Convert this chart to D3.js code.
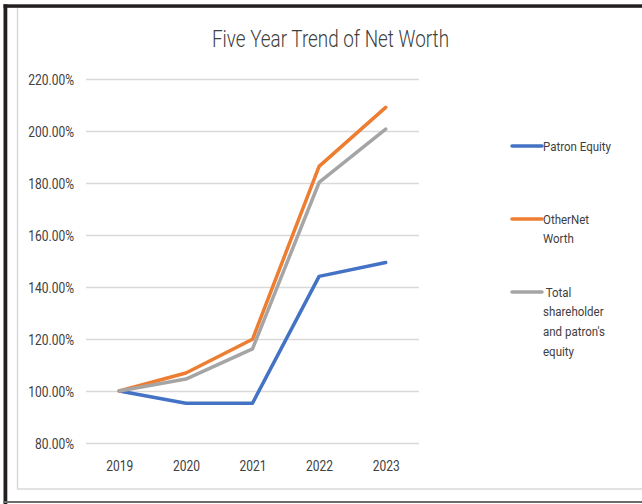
<!DOCTYPE html>
<html>
<head>
<meta charset="utf-8">
<script src="https://cdn.jsdelivr.net/npm/d3@7"></script>
<style>
  body { margin: 0; background: #fff; }
  svg { display: block; font-family: Roboto, "Liberation Sans", sans-serif; }
</style>
</head>
<body>
<svg id="chart" width="642" height="504"></svg>
<script>
// data
const years = ["2019", "2020", "2021", "2022", "2023"];
const patronEquity = [1.00, 0.953, 0.953, 1.441, 1.494];
const otherNetWorth = [1.00, 1.069, 1.199, 1.864, 2.091];
const totalEquity = [1.00, 1.046, 1.162, 1.802, 2.007];
const seriesNames = ["Patron Equity", "Other Net Worth", "Total shareholder and patron's equity"];
const legendLines = [["Patron Equity"], ["OtherNet", "Worth"], [" Total", "shareholder", "and patron's", "equity"]];
const colors = ["#4472C4", "#ED7D31", "#A5A5A5"];
const yTicks = [0.8, 1.0, 1.2, 1.4, 1.6, 1.8, 2.0, 2.2];

const svg = d3.select("#chart");

// squeeze text horizontally, the original uses a narrow face
function condense(sel, f) {
    sel.each(function () {
        const w = this.getComputedTextLength();
        d3.select(this).attr("textLength", w * f).attr("lengthAdjust", "spacingAndGlyphs");
    });
}

// outer frame
svg.append("line").attr("x1", 17.5).attr("x2", 17.5).attr("y1", 8).attr("y2", 489)
    .attr("stroke", "#d9d9d9").attr("stroke-width", 1.5);
svg.append("line").attr("x1", 17).attr("x2", 642).attr("y1", 489).attr("y2", 489)
    .attr("stroke", "#d9d9d9").attr("stroke-width", 1.5);
svg.append("rect").attr("x", 3.5).attr("y", 4.3).attr("width", 642).attr("height", 3.5).attr("fill", "#231f20");
svg.append("rect").attr("x", 3.5).attr("y", 4.3).attr("width", 3.8).attr("height", 500).attr("fill", "#231f20");
svg.append("rect").attr("x", 3.5).attr("y", 501).attr("width", 642).attr("height", 2).attr("fill", "#6b6b6b");

const x = d3.scalePoint()
    .domain(years)
    .range([86, 419])
    .padding(0.5);

const y = d3.scaleLinear()
    .domain([0.8, 2.2])
    .range([443, 79]);

svg.append("text")
    .attr("x", 330.5)
    .attr("y", 47)
    .attr("text-anchor", "middle")
    .attr("font-size", 24)
    .attr("font-weight", 300)
    .attr("fill", "#404040")
    .attr("textLength", 237)
    .attr("lengthAdjust", "spacingAndGlyphs")
    .text("Five Year Trend of Net Worth");

// y axis with gridlines
const yAxis = svg.append("g")
    .attr("transform", "translate(86,0)")
    .call(d3.axisLeft(y).tickValues(yTicks).tickFormat(d3.format(".2%")).tickSize(-333).tickPadding(12));
yAxis.select(".domain").remove();
yAxis.selectAll("line").attr("stroke", "#d9d9d9").attr("stroke-width", 1.5);
yAxis.selectAll("text").attr("font-size", 15).attr("fill", "#404040")
    .attr("font-family", "Roboto, sans-serif").attr("dy", "0.36em");
condense(yAxis.selectAll("text"), 0.8);

// x axis labels
const xAxis = svg.append("g")
    .attr("transform", "translate(0,443)")
    .call(d3.axisBottom(x).tickSize(0).tickPadding(17));
xAxis.select(".domain").remove();
xAxis.selectAll("text").attr("font-size", 15).attr("fill", "#404040")
    .attr("font-family", "Roboto, sans-serif");
condense(xAxis.selectAll("text"), 0.8);

const series = [patronEquity, otherNetWorth, totalEquity];
const line = d3.line()
    .x((d, i) => x(years[i]))
    .y(d => y(d));

// blue first, then orange, gray on top
[0, 1, 2].forEach(k => {
    svg.append("path")
        .datum(series[k])
        .attr("d", line)
        .attr("fill", "none")
        .attr("stroke", colors[k])
        .attr("stroke-width", 3.5)
        .attr("stroke-linejoin", "round")
        .attr("stroke-linecap", "round")
        .append("title").text(seriesNames[k]);
});

// legend
const legendY = [146, 219, 292];
const legend = svg.append("g");
legendLines.forEach((lines, k) => {
    const g = legend.append("g").attr("transform", `translate(512,${legendY[k]})`);
    g.append("line").attr("x1", 0).attr("x2", 30).attr("y1", 0).attr("y2", 0)
        .attr("stroke", colors[k]).attr("stroke-width", 3.5).attr("stroke-linecap", "round");
    const t = g.append("text").attr("x", 31).attr("y", 4.5)
        .attr("font-size", 12.5).attr("fill", "#404040").attr("xml:space", "preserve");
    lines.forEach((s, j) => {
        t.append("tspan").attr("x", 31).attr("dy", j === 0 ? 0 : 19.7).text(s);
    });
    condense(t.selectAll("tspan"), 0.92);
});
</script>
</body>
</html>
